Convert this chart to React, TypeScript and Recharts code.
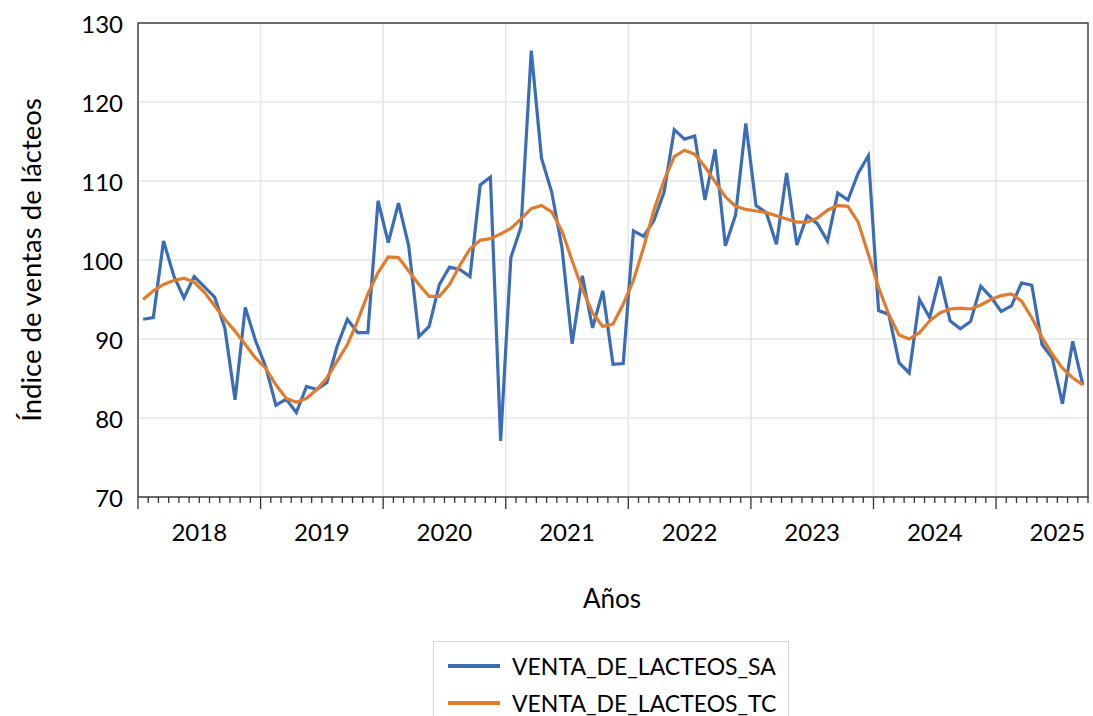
import React from "react";
import { CartesianGrid, Line, LineChart, ReferenceArea, XAxis, YAxis } from "recharts";

// monthly index, Jan 2018 - Sep 2025
const years = ["2018", "2019", "2020", "2021", "2022", "2023", "2024", "2025"];

const ventaSA = [
  92.5, 92.7, 102.4, 98.0, 95.2, 97.9, 96.6, 95.3, 91.4, 82.3, 94.0, 89.8,
  86.5, 81.6, 82.4, 80.7, 84.0, 83.6, 84.5, 89.1, 92.5, 90.8, 90.8, 107.5,
  102.2, 107.2, 101.8, 90.3, 91.6, 96.9, 99.1, 98.8, 97.9, 109.5, 110.5, 77.1,
  100.3, 104.2, 126.5, 112.9, 108.6, 101.6, 89.4, 98.0, 91.4, 96.1, 86.8, 86.9,
  103.7, 103.0, 105.0, 108.6, 116.5, 115.3, 115.7, 107.6, 114.0, 101.8, 105.7, 117.3,
  106.9, 106.0, 102.0, 111.0, 101.9, 105.6, 104.6, 102.4, 108.5, 107.6, 111.0, 113.2,
  93.6, 93.1, 87.0, 85.7, 95.0, 92.7, 97.9, 92.3, 91.3, 92.2, 96.7, 95.3,
  93.5, 94.2, 97.1, 96.8, 89.3, 87.6, 81.8, 89.7, 84.2,
];

const ventaTC = [
  95.0, 96.1, 96.9, 97.4, 97.7, 97.2, 95.9, 94.2, 92.5, 91.0, 89.3, 87.6,
  86.3, 84.2, 82.5, 82.0, 82.5, 83.6, 85.1, 87.2, 89.3, 92.3, 95.7, 98.4,
  100.4, 100.3, 98.6, 96.9, 95.4, 95.4, 96.9, 99.3, 101.4, 102.5, 102.7, 103.3,
  104.0, 105.2, 106.5, 106.9, 106.1, 103.7, 99.9, 96.3, 93.3, 91.6, 91.9, 94.4,
  97.4, 101.6, 106.3, 110.1, 113.1, 113.9, 113.4, 111.8, 109.9, 108.0, 106.8, 106.4,
  106.2, 106.0, 105.6, 105.2, 104.8, 104.8, 105.3, 106.3, 106.9, 106.8, 104.8, 100.7,
  96.5, 93.1, 90.5, 90.0, 90.8, 92.3, 93.3, 93.8, 93.9, 93.8, 94.3, 95.0,
  95.5, 95.7, 94.8, 92.7, 90.2, 88.1, 86.3, 85.1, 84.2,
];

const yTicks = [70, 80, 90, 100, 110, 120, 130];

const N = ventaSA.length;
const data = ventaSA.map((v, i) => ({ x: i + 0.5, sa: v, tc: ventaTC[i] }));
const monthTicks = Array.from({ length: N + 1 }, (_, i) => i);
const yearBounds = monthTicks.filter((m) => m > 0 && m < N && m % 12 === 0);

const FONT = "Lato, 'DejaVu Sans', sans-serif";
const BLUE = "#3a6db5";
const ORANGE = "#e07c2c";

const XTick = (props: any) => {
  const { x, y, payload } = props;
  const v = payload.value;
  const major = v % 12 === 0;
  return (
    <g>
      <line x1={x} x2={x} y1={y} y2={y + (major ? 12 : 6)} stroke="#333" strokeWidth={1.3} />
      {v % 12 === 6 && (
        <text x={x} y={y + 34} textAnchor="middle" dominantBaseline="central" fontSize={24} fontFamily={FONT} fill="#000">
          {years[(v - 6) / 12]}
        </text>
      )}
    </g>
  );
};

const YTick = (props: any) => {
  const { x, y, payload } = props;
  return (
    <text x={x} y={y} textAnchor="end" dominantBaseline="central" fontSize={24} fontFamily={FONT} fill="#000">
      {payload.value}
    </text>
  );
};

const App: React.FC = () => {
  return (
    <div style={{ position: "relative", width: 1093, height: 716, overflow: "hidden", background: "#fff" }}>
      <style>{"body { margin: 0; overflow: hidden; }"}</style>
      <LineChart width={1093} height={716} data={data} margin={{ top: 23, right: 5, left: 0, bottom: 99 }}>
        <CartesianGrid stroke="#e6e6e6" strokeWidth={1.5} verticalValues={yearBounds} />
        <XAxis
          type="number"
          dataKey="x"
          domain={[0, N]}
          ticks={monthTicks}
          interval={0}
          axisLine={false}
          tickLine={false}
          tickSize={0}
          tickMargin={0}
          height={120}
          tick={<XTick />}
          label={() => (
            <text x={612} y={598} textAnchor="middle" dominantBaseline="central" fontSize={26} fontFamily={FONT} fill="#000">
              Años
            </text>
          )}
        />
        <YAxis
          domain={[70, 130]}
          ticks={yTicks}
          width={138}
          axisLine={false}
          tickLine={false}
          tickSize={0}
          tickMargin={15}
          tick={<YTick />}
          label={() => (
            <text
              x={30}
              y={260}
              transform="rotate(-90 30 260)"
              textAnchor="middle"
              dominantBaseline="central"
              fontSize={27.5}
              fontFamily={FONT}
              fill="#000"
            >
              Índice de ventas de lácteos
            </text>
          )}
        />
        <ReferenceArea x1={0} x2={N} y1={70} y2={130} fillOpacity={0} stroke="#404040" strokeWidth={1.5} />
        <Line type="linear" dataKey="sa" stroke={BLUE} strokeWidth={3.2} dot={false} isAnimationActive={false} />
        <Line type="linear" dataKey="tc" stroke={ORANGE} strokeWidth={3.2} dot={false} isAnimationActive={false} />
      </LineChart>
      <div
        style={{
          position: "absolute",
          left: 433,
          top: 641,
          width: 356,
          height: 80,
          border: "1px solid #d6d6d6",
          boxSizing: "border-box",
          fontFamily: FONT,
          fontSize: 23,
          color: "#000",
        }}
      >
        {[
          { name: "VENTA_DE_LACTEOS_SA", color: BLUE },
          { name: "VENTA_DE_LACTEOS_TC", color: ORANGE },
        ].map((it, i) => (
          <div key={it.name} style={{ position: "absolute", left: 14, top: 10 + i * 37, height: 28, display: "flex", alignItems: "center" }}>
            <div style={{ width: 52, height: 4, background: it.color, marginRight: 12 }} />
            <span style={{ whiteSpace: "nowrap" }}>{it.name}</span>
          </div>
        ))}
      </div>
    </div>
  );
};

export default App;
